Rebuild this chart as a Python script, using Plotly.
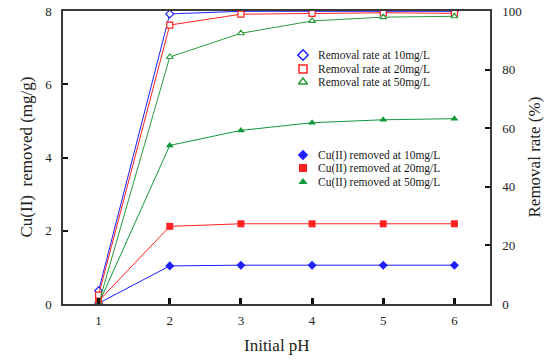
import plotly.graph_objects as go

ph = [1, 2, 3, 4, 5, 6]
cu10 = [0.02, 1.04, 1.06, 1.06, 1.06, 1.06]
cu20 = [0.08, 2.12, 2.19, 2.19, 2.19, 2.19]
cu50 = [0.0, 4.33, 4.74, 4.95, 5.03, 5.06]
rate10 = [4.5, 99.0, 99.9, 99.9, 99.9, 99.9]
rate20 = [3.0, 95.2, 98.9, 99.2, 99.4, 99.2]
rate50 = [0.0, 84.3, 92.4, 96.6, 97.9, 98.2]

rate_names = ["Removal rate at 10mg/L", "Removal rate at 20mg/L", "Removal rate at 50mg/L"]
cu_names = ["Cu(II) removed at 10mg/L", "Cu(II) removed at 20mg/L", "Cu(II) removed at 50mg/L"]

BLUE = "#1f1fff"
RED = "#ff2222"
GREEN = "#2a9a3a"
GREEN_F = "#119a3a"
FONT = "Liberation Serif, Times New Roman, serif"
AX = "#3d3935"

fig = go.Figure()

# Rate (right axis), open markers
for ys, c, sym in [(rate10, BLUE, "diamond"), (rate20, RED, "square"), (rate50, GREEN, "triangle-up")]:
    fig.add_trace(go.Scatter(x=ph, y=ys, yaxis="y2", mode="lines+markers",
                             line=dict(color=c, width=1),
                             marker=dict(symbol=sym, size=6, color="white", line=dict(color=c, width=1.2)),
                             showlegend=False))
# Cu removed (left axis), filled markers
for ys, c, sym in [(cu10, BLUE, "diamond"), (cu20, RED, "square"), (cu50, GREEN_F, "triangle-up")]:
    fig.add_trace(go.Scatter(x=ph, y=ys, yaxis="y", mode="lines+markers",
                             line=dict(color=c, width=1),
                             marker=dict(symbol=sym, size=7, color=c),
                             showlegend=False))

# Manual legends (pixel-coordinate overlay axes)
leg_x = 303
rate_rows = [55, 69, 82]
cu_rows = [155, 168, 182]
open_syms = [("diamond", BLUE), ("square", RED), ("triangle-up", GREEN)]
fill_syms = [("diamond", BLUE), ("square", RED), ("triangle-up", GREEN_F)]

fig.add_trace(go.Scatter(x=[leg_x] * 3, y=rate_rows, xaxis="x3", yaxis="y3", mode="markers",
                         marker=dict(symbol=[s for s, _ in open_syms], size=8, color="white",
                                     line=dict(color=[c for _, c in open_syms], width=1.5)),
                         showlegend=False, hoverinfo="skip"))
fig.add_trace(go.Scatter(x=[leg_x] * 3, y=cu_rows, xaxis="x3", yaxis="y3", mode="markers",
                         marker=dict(symbol=[s for s, _ in fill_syms], size=8,
                                     color=[c for _, c in fill_syms]),
                         showlegend=False, hoverinfo="skip"))

annotations = []
for name, yy in zip(rate_names + cu_names, rate_rows + cu_rows):
    annotations.append(dict(x=leg_x + 13, y=yy, xref="x3", yref="y3", text=name, showarrow=False,
                            xanchor="left", yanchor="middle",
                            font=dict(family=FONT, size=11.5, color="#1a1a1a")))
# Axis titles
annotations.append(dict(x=0, y=0.5, xref="paper", yref="paper", xshift=-37, text="Cu(II)  removed (mg/g)",
                        textangle=-90, showarrow=False, xanchor="center", yanchor="middle",
                        font=dict(family=FONT, size=17, color="#222")))
annotations.append(dict(x=1, y=0.5, xref="paper", yref="paper", xshift=44, text="Removal rate (%)",
                        textangle=-90, showarrow=False, xanchor="center", yanchor="middle",
                        font=dict(family=FONT, size=17, color="#222")))
annotations.append(dict(x=0.5, y=0, xref="paper", yref="paper", yshift=-41, text="Initial pH",
                        showarrow=False, xanchor="center", yanchor="middle",
                        font=dict(family=FONT, size=17, color="#222")))

fig.update_layout(
    template="none",
    width=550, height=364,
    margin=dict(l=63, r=60, t=11, b=60, autoexpand=False),
    paper_bgcolor="white", plot_bgcolor="white",
    font=dict(family=FONT, size=13, color="#222"),
    showlegend=False,
    annotations=annotations,
    xaxis=dict(range=[0.5, 6.5], tickvals=ph, ticks="inside", ticklen=6, tickwidth=3, tickcolor="#111",
               showline=True, mirror=True, linecolor=AX, linewidth=1.5, showgrid=False, zeroline=False,
               ticklabelstandoff=4, tickfont=dict(family=FONT, size=13), automargin=False),
    yaxis=dict(range=[0, 8], tickvals=[0, 2, 4, 6, 8], ticks="inside", ticklen=5, tickwidth=1.5,
               tickcolor="#111", showline=True, linecolor=AX, linewidth=1.5, showgrid=False,
               zeroline=False, ticklabelstandoff=7, tickfont=dict(family=FONT, size=13), automargin=False),
    yaxis2=dict(range=[0, 100], tickvals=[0, 20, 40, 60, 80, 100], overlaying="y", side="right",
                ticks="inside", ticklen=5, tickwidth=1.5, tickcolor="#111", showline=True,
                linecolor=AX, linewidth=1.5, showgrid=False, zeroline=False, ticklabelstandoff=8,
                tickfont=dict(family=FONT, size=13), automargin=False),
    xaxis3=dict(range=[63, 490], overlaying="x", visible=False, anchor="y3", automargin=False),
    yaxis3=dict(range=[304, 11], overlaying="y", visible=False, anchor="x3", automargin=False),
)

fig.write_html("out.html", config={"displayModeBar": False},
               post_script="document.body.style.margin='0';")
